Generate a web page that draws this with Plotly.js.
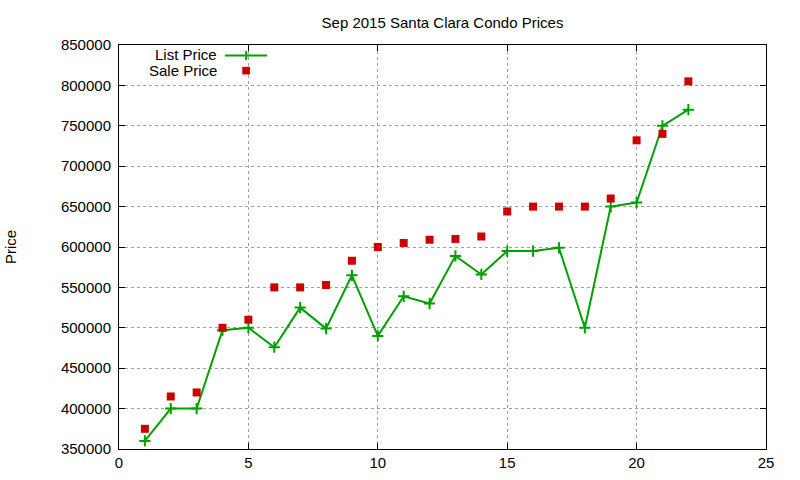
<!DOCTYPE html>
<html>
<head>
<meta charset="utf-8">
<script src="https://cdn.plot.ly/plotly-3.0.1.min.js"></script>
<style>
  body { margin: 0; background: #fff; }
  #chart { width: 800px; height: 480px; }
</style>
</head>
<body>
<div id="chart"></div>
<script>
// listing index 1..22
const idx = [1, 2, 3, 4, 5, 6, 7, 8, 9, 10, 11, 12, 13, 14, 15, 16, 17, 18, 19, 20, 21, 22]
const list_price = [360000, 400000, 400000, 497000, 500000, 476000, 525000, 499000, 565000, 490000, 539000,
                    530000, 589000, 566000, 595000, 595000, 599000, 500000, 650000, 655000, 750000, 770000]
const sale_price = [375000, 415000, 420000, 500000, 510000, 550000, 550000, 553000, 583000, 600000, 605000,
                    609000, 610000, 613000, 644000, 650000, 650000, 650000, 660000, 732000, 740000, 805000]
const x_ticks = [0, 5, 10, 15, 20, 25]
const y_ticks = [350000, 400000, 450000, 500000, 550000, 600000, 650000, 700000, 750000, 800000, 850000]

const green = '#00a000'
const red = '#cc0000'
const font = 'Liberation Sans, Arial, sans-serif'

var data = [
    {
        x: idx,
        y: list_price,
        name: 'List Price',
        mode: 'lines+markers',
        line: { color: green, width: 2 },
        marker: { symbol: 'cross-thin', size: 8, line: { color: green, width: 2 } },
    },
    {
        x: idx,
        y: sale_price,
        name: 'Sale Price',
        mode: 'markers',
        marker: { symbol: 'square', size: 8, color: red },
    },
]

var axis_common = {
    showline: true,
    linecolor: '#000',
    linewidth: 1,
    mirror: 'ticks',
    ticks: 'inside',
    ticklen: 6,
    tickcolor: '#000',
    showgrid: true,
    gridcolor: '#a0a0a0',
    griddash: 'dot',
    gridwidth: 1,
    zeroline: false,
    tickfont: { family: font, size: 15, color: '#000' },
}

var layout = {
    width: 800,
    height: 480,
    margin: { l: 118.5, r: 34, t: 45, b: 31 },
    paper_bgcolor: '#fff',
    plot_bgcolor: '#fff',
    showlegend: false,
    font: { family: font, size: 15, color: '#000' },
    title: {
        text: 'Sep 2015 Santa Clara Condo Prices',
        font: { family: font, size: 15, color: '#000' },
        x: 0.5, xref: 'paper', xanchor: 'center',
        y: 20, yref: 'container', yanchor: 'middle',
    },
    xaxis: Object.assign({}, axis_common, {
        range: [0, 25],
        tickvals: x_ticks,
        ticktext: x_ticks.map(String),
    }),
    yaxis: Object.assign({}, axis_common, {
        range: [350000, 850000],
        tickvals: y_ticks,
        ticktext: y_ticks.map(String),
        ticklabelstandoff: 4,
        title: { text: 'Price', font: { family: font, size: 15, color: '#000' }, standoff: 40 },
    }),
    // gnuplot style key: text on the left, sample on the right
    annotations: [
        { text: 'List Price', xref: 'paper', yref: 'paper', x: 0.155, y: 0.976, xanchor: 'right', yanchor: 'middle',
          showarrow: false, font: { family: font, size: 15, color: '#000' } },
        { text: 'Sale Price', xref: 'paper', yref: 'paper', x: 0.155, y: 0.937, xanchor: 'right', yanchor: 'middle',
          showarrow: false, font: { family: font, size: 15, color: '#000' } },
    ],
    shapes: [
        { type: 'line', xref: 'paper', yref: 'paper', x0: 0.164, x1: 0.229, y0: 0.974, y1: 0.974,
          line: { color: green, width: 2 } },
        { type: 'line', xref: 'paper', yref: 'paper', x0: 0.1965, x1: 0.1965, y0: 0.963, y1: 0.985,
          line: { color: green, width: 2 } },
        { type: 'rect', xref: 'paper', yref: 'paper', x0: 0.1905, x1: 0.2025, y0: 0.927, y1: 0.946,
          fillcolor: red, line: { width: 0 } },
    ],
}

Plotly.newPlot('chart', data, layout, { staticPlot: true })
</script>
</body>
</html>
